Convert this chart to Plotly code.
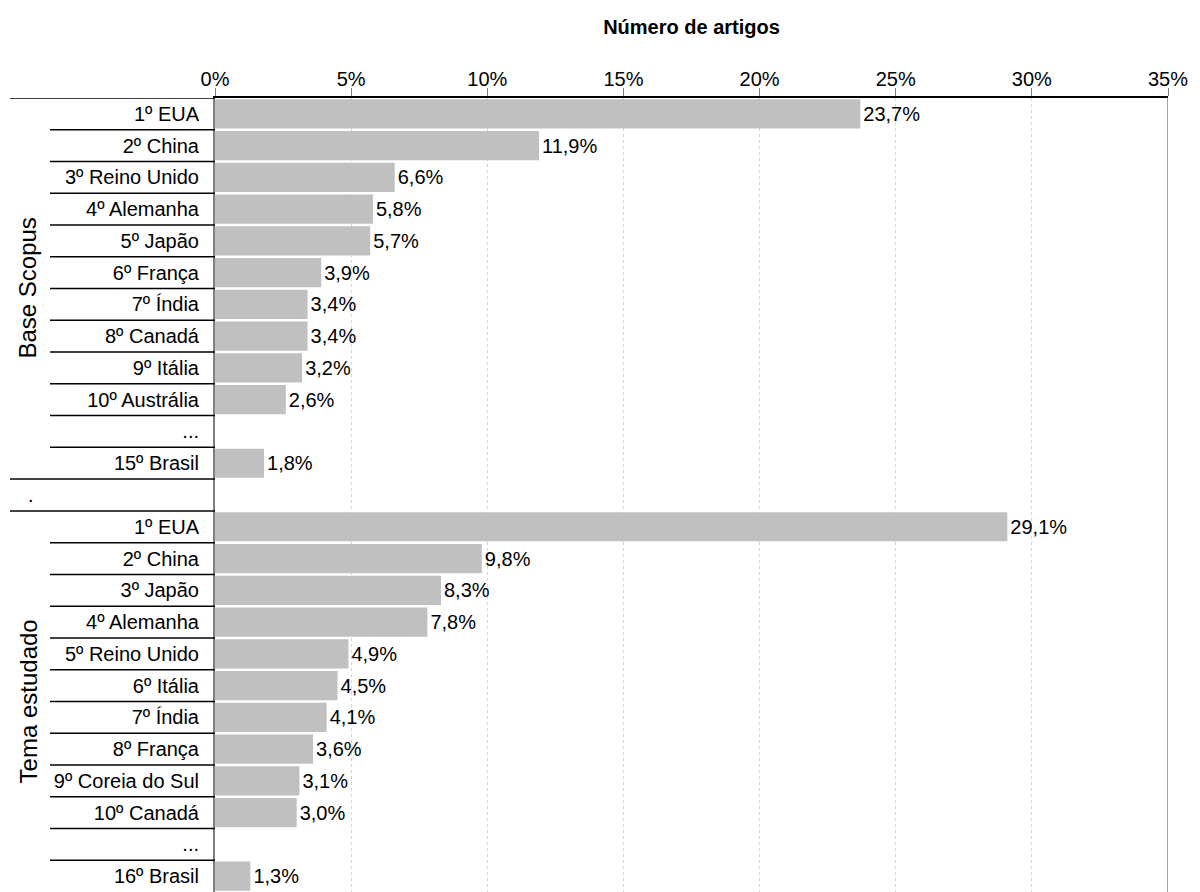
import plotly.graph_objects as go

# Ranking of countries by share of articles (%)
scopus_labels = ["1º EUA", "2º China", "3º Reino Unido", "4º Alemanha", "5º Japão",
                 "6º França", "7º Índia", "8º Canadá", "9º Itália", "10º Austrália",
                 "...", "15º Brasil"]
scopus_values = [23.7, 11.9, 6.6, 5.8, 5.7, 3.9, 3.4, 3.4, 3.2, 2.6, None, 1.8]

tema_labels = ["1º EUA", "2º China", "3º Japão", "4º Alemanha", "5º Reino Unido",
               "6º Itália", "7º Índia", "8º França", "9º Coreia do Sul", "10º Canadá",
               "...", "16º Brasil"]
tema_values = [29.1, 9.8, 8.3, 7.8, 4.9, 4.5, 4.1, 3.6, 3.1, 3.0, None, 1.3]

group_names = ["Base Scopus", "Tema estudado"]
x_ticks = [0, 5, 10, 15, 20, 25, 30, 35]
x_tick_labels = ["0%", "5%", "10%", "15%", "20%", "25%", "30%", "35%"]

# one blank spacer row between the two groups
row_labels = scopus_labels + [""] + tema_labels
row_values = scopus_values + [None] + tema_values
rows = list(range(len(row_labels)))

FONT = "Liberation Sans, Arial, sans-serif"
W, H = 1200, 892
ML, MR, MT, MB = 215, 32, 98, 0
PW = W - ML - MR


def px_to_paper(px):
    return (px - ML) / PW


fig = go.Figure()
fig.add_trace(go.Bar(
    y=rows,
    x=row_values,
    orientation="h",
    width=0.92,
    marker=dict(color="#c0c0c0", line=dict(width=0)),
    texttemplate="%{x:.1f}%",
    textposition="outside",
    textfont=dict(family=FONT, size=20, color="#000000"),
    cliponaxis=False,
    hoverinfo="skip",
))

shapes = []
n = len(rows)
sep_index = len(scopus_labels)
# row separators in the label column
for i in range(n - 1):
    b = i + 0.5
    long_line = b in (sep_index - 0.5, sep_index + 0.5)
    shapes.append(dict(type="line", xref="paper", yref="y",
                       x0=px_to_paper(10 if long_line else 50), x1=0,
                       y0=b, y1=b, line=dict(color="#000000", width=1.5)))
# top rule extended across the label column
shapes.append(dict(type="line", xref="paper", yref="y",
                   x0=px_to_paper(10), x1=0, y0=-0.5, y1=-0.5,
                   line=dict(color="#000000", width=1.5)))
# right border of the plot area
shapes.append(dict(type="line", xref="x", yref="paper",
                   x0=35, x1=35, y0=0, y1=1,
                   line=dict(color="#808080", width=1.5)))

annotations = [
    dict(text=group_names[0], xref="paper", yref="y", x=px_to_paper(28),
         xanchor="center", yanchor="middle",
         y=(sep_index - 1) / 2, textangle=-90, showarrow=False,
         font=dict(family=FONT, size=24, color="#000000")),
    dict(text=group_names[1], xref="paper", yref="y", x=px_to_paper(28),
         xanchor="center", yanchor="middle",
         y=sep_index + 1 + (len(tema_labels) - 1) / 2, textangle=-90, showarrow=False,
         font=dict(family=FONT, size=24, color="#000000")),
    dict(text=".", xref="paper", yref="y", x=px_to_paper(31), y=sep_index,
         xanchor="center", showarrow=False,
         font=dict(family=FONT, size=20, color="#000000")),
]

fig.update_layout(
    width=W, height=H,
    margin=dict(l=ML, r=MR, t=MT, b=MB, pad=0),
    paper_bgcolor="white", plot_bgcolor="white",
    separators=",.",
    showlegend=False,
    shapes=shapes,
    annotations=annotations,
    bargap=0.08,
    xaxis=dict(
        side="top",
        range=[0, 35],
        tickmode="array",
        tickvals=x_ticks,
        ticktext=x_tick_labels,
        tickfont=dict(family=FONT, size=20, color="#000000"),
        ticks="outside", ticklen=8, tickcolor="#808080", tickwidth=1,
        ticklabelstandoff=-6,
        showgrid=True, gridcolor="#d4d4d4", griddash="dot", gridwidth=1,
        zeroline=False,
        showline=True, linecolor="#000000", linewidth=1.5,
        title=dict(text="<b>Número de artigos</b>",
                   font=dict(family=FONT, size=20, color="#000000"),
                   standoff=28),
    ),
    yaxis=dict(
        range=[n - 0.5, -0.5],
        tickvals=rows,
        ticktext=row_labels,
        tickfont=dict(family=FONT, size=20, color="#000000"),
        ticks="", ticklabelstandoff=10,
        showgrid=False, zeroline=False,
        showline=True, linecolor="#808080", linewidth=2,
    ),
)

fig.write_html("out.html")
